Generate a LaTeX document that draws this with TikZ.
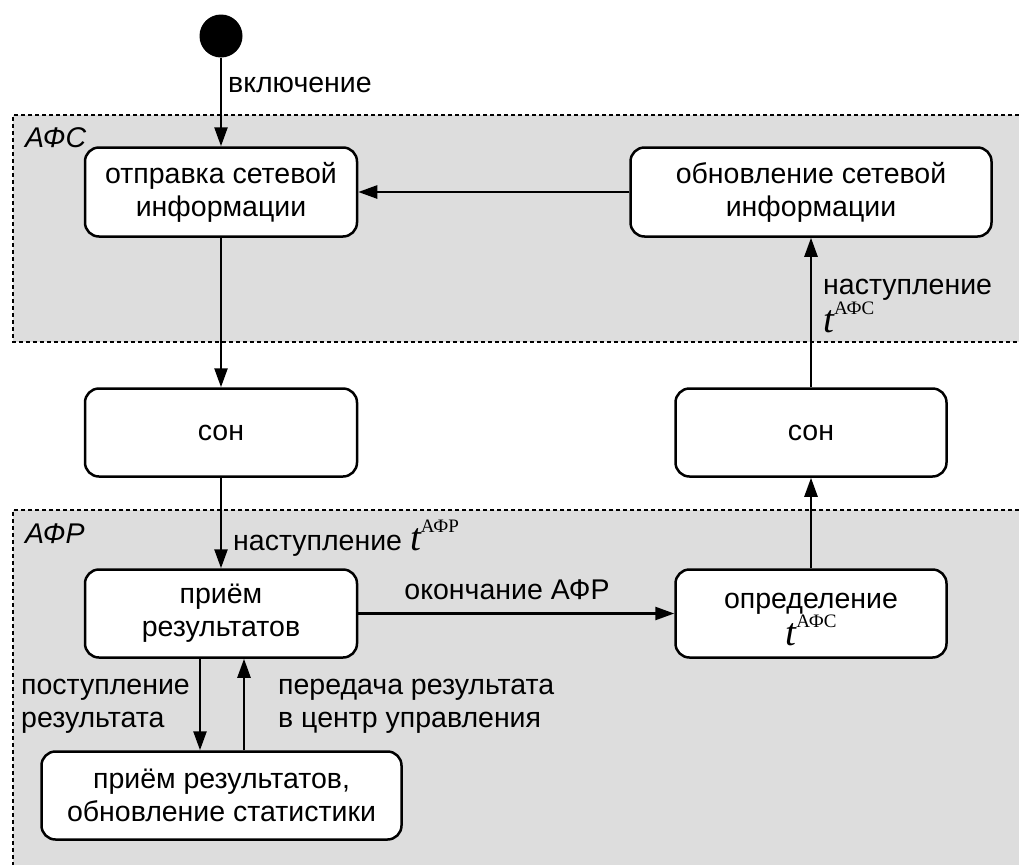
\documentclass[tikz,border=0pt]{standalone}
\usepackage{fontspec}
\setmainfont{Liberation Sans}
\newfontfamily\serifface{Liberation Serif}
\usetikzlibrary{arrows.meta}
\definecolor{regionGray}{HTML}{DDDDDD}
\newcommand{\tsup}[1]{{\serifface\fontsize{39}{39}\selectfont\itshape t}\raisebox{18pt}{\serifface\fontsize{19}{19}\selectfont #1}}

\begin{document}
\begin{tikzpicture}[x=1pt, y=-1pt,
    every node/.style={font=\fontsize{28.5}{33}\selectfont},
    state/.style={draw, fill=white, line width=2.5pt, rounded corners=14pt, align=center, inner sep=0pt},
    lbl/.style={inner sep=0pt, align=left, anchor=base west},
    arr/.style={line width=2.5pt, -{Triangle[length=19pt,width=13pt]}},
    region/.style={line width=2.5pt, dash pattern=on 4pt off 3pt}]
    \useasboundingbox (0,0) rectangle (1019,865);
    \fill[regionGray] (13,115) rectangle (1019,342);
    \draw[region] (1019,115) -- (13,115) -- (13,342) -- (1019,342);
    \fill[regionGray] (13,510) rectangle (1019,865);
    \draw[region] (1019,510) -- (13,510) -- (13,865);
    \node[lbl, font=\fontsize{28.5}{33}\selectfont\itshape] (afsName) at (25,147) {АФС};
    \node[lbl, font=\fontsize{28.5}{33}\selectfont\itshape] (afrName) at (25,543) {АФР};

    \node[circle, fill=black, inner sep=0pt, minimum size=43pt] (start) at (221,36) {};
    \node[state, minimum width=272pt, minimum height=89pt] (send) at (221,192) {отправка сетевой\\информации};
    \node[state, minimum width=361pt, minimum height=89pt] (update) at (811,192) {обновление сетевой\\информации};
    \node[state, minimum width=272pt, minimum height=88pt] (sleepL) at (221,432.5) {сон};
    \node[state, minimum width=271pt, minimum height=88pt] (sleepR) at (811,432.5) {сон};
    \node[state, minimum width=272pt, minimum height=88pt] (recv) at (221,613.5) {приём\\результатов};
    \node[state, minimum width=271pt, minimum height=88pt] (define) at (811,613.5) {\rule{0pt}{27pt}определение\\\tsup{АФС}};
    \node[state, minimum width=360pt, minimum height=88pt] (stats) at (221.5,795.5) {приём результатов,\\обновление статистики};

    \draw[arr] (start) -- (send);
    \draw[arr] (update) -- (send);
    \draw[arr] (send) -- (sleepL);
    \draw[arr] (sleepL) -- (recv);
    \draw[arr] (recv) -- (define);
    \draw[arr] (define) -- (sleepR);
    \draw[arr] (sleepR) -- (update);
    \draw[arr] (recv.south -| 200,0) -- (stats.north -| 200,0);
    \draw[arr] (stats.north -| 244,0) -- (recv.south -| 244,0);

    \node[lbl] (onLabel) at (228,92) {включение};
    \node[lbl] (afrLabel) at (233,550) {наступление \tsup{АФР}};
    \node[lbl] (afsLabel) at (823,332) {наступление\\\tsup{АФС}};
    \node[lbl, anchor=base] (endLabel) at (507,599) {окончание АФР};
    \node[lbl] (inLabel) at (21,727) {поступление\\результата};
    \node[lbl] (outLabel) at (278,727) {передача результата\\в центр управления};
\end{tikzpicture}
\end{document}
